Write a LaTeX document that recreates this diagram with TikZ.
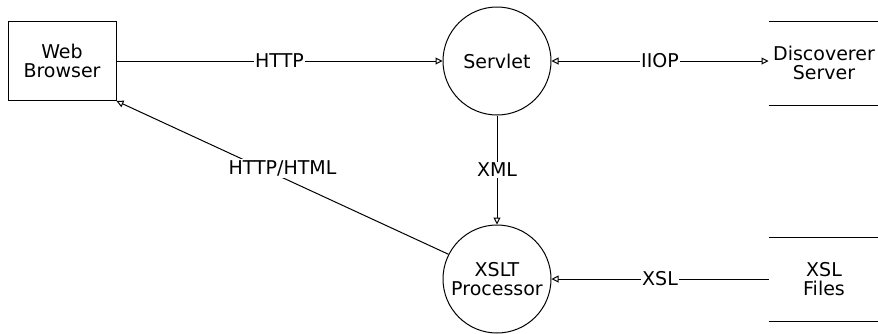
\documentclass[tikz,border=0pt]{standalone}
\usepackage{fontspec}
\setmainfont{DejaVu Sans}
\usetikzlibrary{arrows.meta}
\tikzset{
    >={Triangle[open,length=7pt,width=7pt]},
    proc/.style = {draw, circle, minimum size=108pt, inner sep=0pt, align=center},
    store/.style = {minimum width=110pt, minimum height=83pt, inner sep=0pt, align=center},
    lbl/.style = {fill=white, inner sep=1.5pt}
}
\begin{document}
\begin{tikzpicture}[x=1pt, y=-1pt, line width=1pt, font=\fontsize{19}{19.5}\selectfont]
    \useasboundingbox (0,0) rectangle (878,333);
    \node[draw, minimum width=108pt, minimum height=79pt, align=center] (browser) at (62,61) {Web\\Browser};
    \node[proc] (servlet) at (497,61) {Servlet};
    \node[proc] (xslt) at (497,279) {XSLT\\Processor};
    \node[store] (disc) at (824,63) {Discoverer\\Server};
    \node[store] (xsl) at (824,279) {XSL\\Files};
    \draw (disc.north west) -- (disc.north east);
    \draw (disc.south west) -- (disc.south east);
    \draw (xsl.north west) -- (xsl.north east);
    \draw (xsl.south west) -- (xsl.south east);
    \draw[->] (browser.east) -- node[lbl] {HTTP} (servlet.west);
    \draw[<->] (servlet.east) -- node[lbl] {IIOP} (servlet.east -| disc.west);
    \draw[->] (servlet) -- node[lbl] {XML} (xslt);
    \draw[->] (xsl.west) -- node[lbl] {XSL} (xslt.east);
    \draw[->] (xslt.153) -- node[lbl, yshift=9pt] {HTTP/HTML} (browser.south east);
\end{tikzpicture}
\end{document}
